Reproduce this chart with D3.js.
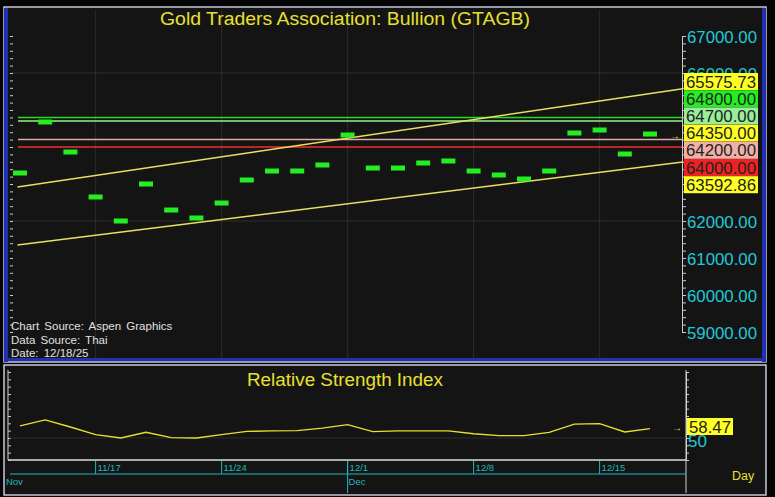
<!DOCTYPE html>
<html>
<head>
<meta charset="utf-8">
<script src="https://cdn.jsdelivr.net/npm/d3@7"></script>
<style>
  body { margin: 0; background: #000; }
  text { font-family: "Liberation Sans", Arial, sans-serif; }
</style>
</head>
<body>
<script>
// daily closes, 11/12/25 .. 12/17/25 (trading days)
var closes = [63297, 64676, 63865, 62649, 62000, 63000, 62297, 62081, 62486, 63108,
              63351, 63351, 63514, 64324, 63432, 63432, 63568, 63622, 63351, 63243,
              63135, 63351, 64378, 64459, 63811, 64350];
var rsi = [58.2, 62.3, 57.5, 52.3, 50.0, 53.9, 50.2, 50.0, 52.3, 54.5,
           54.8, 55.0, 56.8, 59.1, 54.3, 54.8, 54.8, 54.8, 52.9, 51.6,
           51.6, 53.9, 59.5, 59.8, 54.1, 56.4];
var weekTicks = [{i: 3, label: "11/17"}, {i: 8, label: "11/24"}, {i: 13, label: "12/1"},
                 {i: 18, label: "12/8"}, {i: 23, label: "12/15"}];
var monthTicks = [{i: -0.6, label: "Nov"}, {i: 13, label: "Dec"}];
var levels = [{v: 64800, c: "#22dd22"}, {v: 64700, c: "#99ee88"},
              {v: 64200, c: "#e0a8a0"}, {v: 64000, c: "#ee3030"}];
var upperTrend = [[-0.1, 62919], [26.3, 65575.73]];
var lowerTrend = [[-0.1, 61351], [26.3, 63592.86]];
var priceTicks = [67000, 66000, 62000, 61000, 60000, 59000];
var tags = [{v: "65575.73", bg: "#ffff22"}, {v: "64800.00", bg: "#22ee22"},
            {v: "64700.00", bg: "#99ee99"}, {v: "64350.00", bg: "#ffff22"},
            {v: "64200.00", bg: "#f0b0a8"}, {v: "64000.00", bg: "#ee2222"},
            {v: "63592.86", bg: "#ffff22"}];
var rsiLast = "58.47";

var svg = d3.select("body").append("svg").attr("width", 775).attr("height", 497);
svg.append("rect").attr("width", 775).attr("height", 497).attr("fill", "#050505");

var x = d3.scaleLinear().domain([0, 1]).range([20, 45.2]);
var y = d3.scaleLinear().domain([67000, 59000]).range([36, 332]);
var yr = d3.scaleLinear().domain([35, 95]).range([460, 372]);

// main panel
svg.append("rect").attr("x", 4).attr("y", 7).attr("width", 762).attr("height", 355)
   .attr("fill", "#141414").attr("stroke", "#c8c8d8").attr("stroke-width", 1.5);
svg.append("rect").attr("x", 4).attr("y", 8).attr("width", 4).attr("height", 354).attr("fill", "#2030b0");
svg.append("rect").attr("x", 762).attr("y", 8).attr("width", 4).attr("height", 354).attr("fill", "#2030b0");
svg.append("rect").attr("x", 4).attr("y", 358).attr("width", 762).attr("height", 3).attr("fill", "#2030b0");

var grid = svg.append("g").attr("stroke", "#2c2c2c");
weekTicks.forEach(function(t) {
  grid.append("line").attr("x1", x(t.i)).attr("x2", x(t.i)).attr("y1", 10).attr("y2", 358);
  grid.append("line").attr("x1", x(t.i)).attr("x2", x(t.i)).attr("y1", 368).attr("y2", 460);
});
[66000, 62000].forEach(function(v) {
  grid.append("line").attr("x1", 10).attr("x2", 682).attr("y1", y(v)).attr("y2", y(v));
});

// axes ticks
svg.append("g").attr("transform", "translate(682,0)")
   .call(d3.axisRight(y).ticks(40).tickSize(4).tickFormat(""))
   .call(function(g) { g.selectAll("line,path").attr("stroke", "#ccc"); });
svg.append("g").attr("transform", "translate(10,0)")
   .call(d3.axisRight(y).ticks(40).tickSize(3).tickFormat(""))
   .call(function(g) { g.selectAll("line").attr("stroke", "#ccc"); g.select("path").remove(); });

svg.append("g").selectAll("text").data(priceTicks).enter().append("text")
   .attr("x", 687).attr("y", function(d) { return y(d) + 7; })
   .attr("fill", "#22c8d8").attr("font-size", 17).attr("textLength", 70).attr("lengthAdjust", "spacingAndGlyphs")
   .text(function(d) { return d.toFixed(2); });

levels.forEach(function(l) {
  svg.append("line").attr("x1", 18).attr("x2", 682).attr("y1", y(l.v)).attr("y2", y(l.v))
     .attr("stroke", l.c).attr("stroke-width", 1.5);
});

var tl = d3.line().x(function(d) { return x(d[0]); }).y(function(d) { return y(d[1]); });
[upperTrend, lowerTrend].forEach(function(t) {
  svg.append("path").attr("d", tl(t)).attr("stroke", "#e8e060").attr("stroke-width", 1.5).attr("fill", "none");
});

svg.append("g").selectAll("rect").data(closes).enter().append("rect")
   .attr("x", function(d, i) { return x(i) - 7; }).attr("y", function(d) { return y(d) - 2.5; })
   .attr("width", 14).attr("height", 5).attr("fill", "#22ee22");

var tg = svg.append("g").selectAll("g").data(tags).enter().append("g")
   .attr("transform", function(d, i) { return "translate(684," + (73 + i * 17.2) + ")"; });
tg.append("rect").attr("width", 74).attr("height", 17).attr("fill", function(d) { return d.bg; });
tg.append("text").attr("x", 2).attr("y", 14.5).attr("font-size", 17).attr("fill", "#222")
  .attr("textLength", 70).attr("lengthAdjust", "spacingAndGlyphs")
  .text(function(d) { return d.v; });
svg.append("text").attr("x", 670).attr("y", 139).attr("fill", "#e8e060").attr("font-size", 10).text("→");

svg.append("text").attr("x", 345).attr("y", 25).attr("text-anchor", "middle")
   .attr("fill", "#e8e030").attr("font-size", 18).attr("textLength", 370).attr("lengthAdjust", "spacingAndGlyphs")
   .text("Gold Traders Association: Bullion (GTAGB)");

var src = ["Chart Source: Aspen Graphics", "Data Source: Thai", "Date: 12/18/25"];
svg.append("g").selectAll("text").data(src).enter().append("text")
   .attr("x", 11).attr("y", function(d, i) { return 330 + i * 13.5; })
   .attr("fill", "#e0e0e0").attr("font-size", 11.5).attr("word-spacing", 2).text(function(d) { return d; });

// RSI panel
svg.append("rect").attr("x", 4).attr("y", 365).attr("width", 762).attr("height", 130)
   .attr("fill", "#141414").attr("stroke", "#c8c8d8").attr("stroke-width", 1.5);
svg.append("line").attr("x1", 8).attr("x2", 686).attr("y1", 460).attr("y2", 460).attr("stroke", "#ddd").attr("stroke-width", 1.5);
svg.append("line").attr("x1", 686).attr("x2", 686).attr("y1", 370).attr("y2", 493).attr("stroke", "#ccc");
svg.append("line").attr("x1", 8).attr("x2", 8).attr("y1", 370).attr("y2", 460).attr("stroke", "#ccc");
svg.append("g").attr("transform", "translate(686,0)")
   .call(d3.axisRight(yr).ticks(12).tickSize(3).tickFormat(""))
   .call(function(g) { g.selectAll("line,path").attr("stroke", "#ccc"); });
svg.append("g").attr("transform", "translate(8,0)")
   .call(d3.axisRight(yr).ticks(12).tickSize(3).tickFormat(""))
   .call(function(g) { g.selectAll("line").attr("stroke", "#ccc"); g.select("path").remove(); });
svg.append("line").attr("x1", 10).attr("x2", 686).attr("y1", yr(50)).attr("y2", yr(50)).attr("stroke", "#2c2c2c");

svg.append("text").attr("x", 345).attr("y", 386).attr("text-anchor", "middle")
   .attr("fill", "#e8e030").attr("font-size", 17.5).attr("textLength", 196).attr("lengthAdjust", "spacingAndGlyphs")
   .text("Relative Strength Index");

svg.append("path").datum(rsi)
   .attr("d", d3.line().x(function(d, i) { return x(i); }).y(function(d) { return yr(d); }))
   .attr("fill", "none").attr("stroke", "#e8e030").attr("stroke-width", 1.3);

svg.append("text").attr("x", 688).attr("y", yr(50) + 9).attr("fill", "#22c8d8").attr("font-size", 17).text("50");
svg.append("rect").attr("x", 687).attr("y", 418).attr("width", 46).attr("height", 17).attr("fill", "#ffff22");
svg.append("text").attr("x", 689).attr("y", 433).attr("fill", "#222").attr("font-size", 17)
   .attr("textLength", 42).attr("lengthAdjust", "spacingAndGlyphs").text(rsiLast);
svg.append("text").attr("x", 672).attr("y", 431).attr("fill", "#e8e060").attr("font-size", 10).text("→");

// date axis
var ax = svg.append("g").attr("stroke", "#20b8b8");
ax.append("line").attr("x1", 10).attr("x2", 686).attr("y1", 474).attr("y2", 474);
weekTicks.forEach(function(t) {
  ax.append("line").attr("x1", x(t.i)).attr("x2", x(t.i)).attr("y1", 461).attr("y2", 474);
});
ax.append("line").attr("x1", x(13)).attr("x2", x(13)).attr("y1", 461).attr("y2", 493);
svg.append("g").selectAll("text").data(weekTicks).enter().append("text")
   .attr("x", function(d) { return x(d.i) + 2; }).attr("y", 471)
   .attr("fill", "#20b8b8").attr("font-size", 9.5).text(function(d) { return d.label; });
svg.append("g").selectAll("text").data(monthTicks).enter().append("text")
   .attr("x", function(d) { return x(d.i) + 1; }).attr("y", 485)
   .attr("fill", "#20b8b8").attr("font-size", 9.5).text(function(d) { return d.label; });
svg.append("text").attr("x", 732).attr("y", 480).attr("fill", "#e8e030").attr("font-size", 12.5).text("Day");
</script>
</body>
</html>
